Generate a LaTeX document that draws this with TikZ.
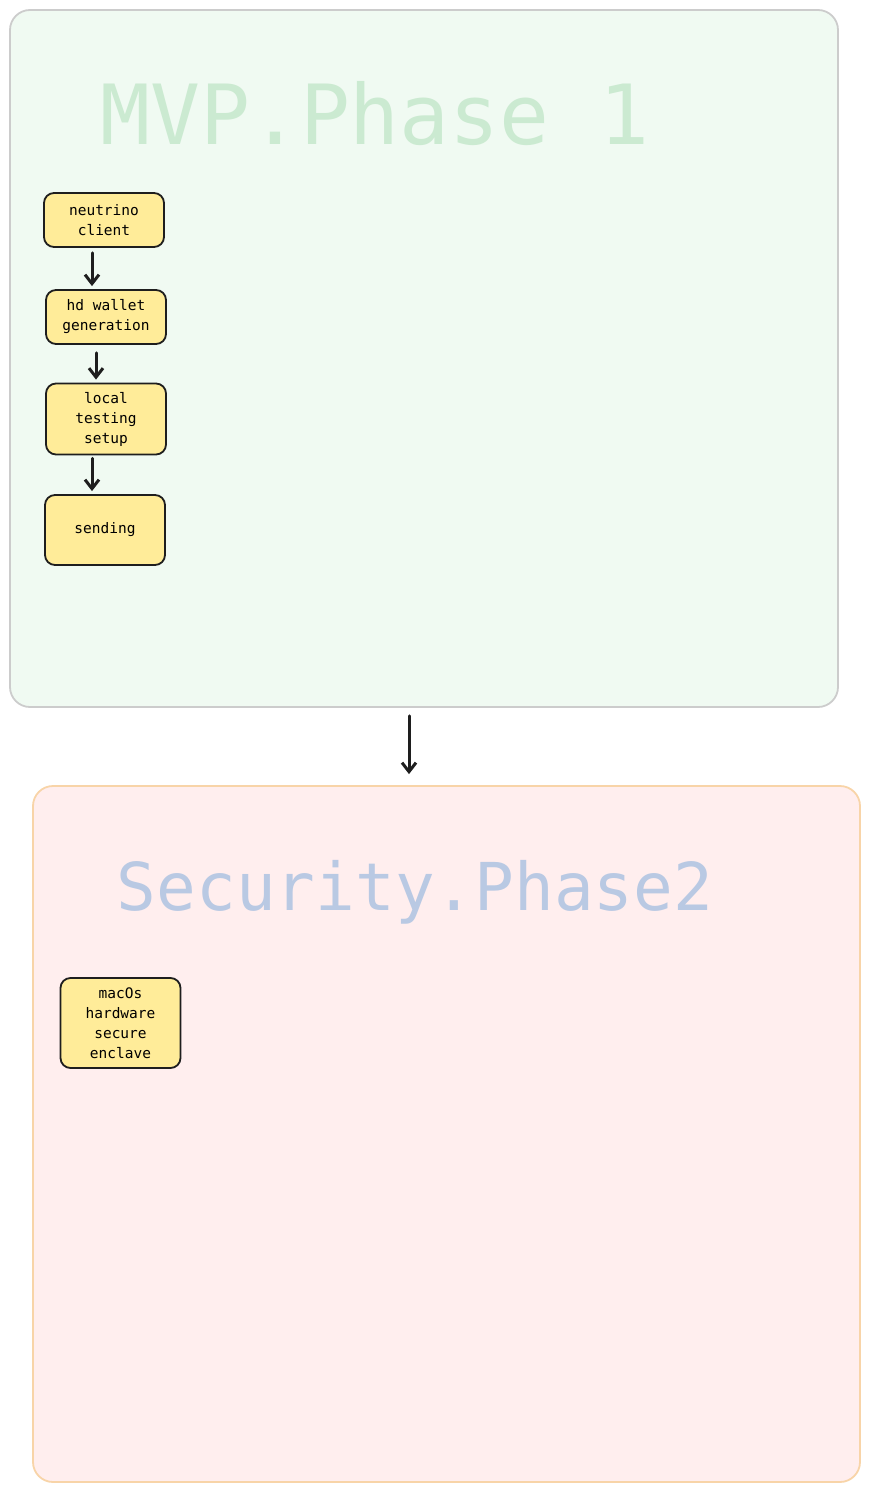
\documentclass[tikz,border=0pt]{standalone}
\usepackage{fontspec}
\setmonofont{DejaVu Sans Mono}
\usetikzlibrary{arrows,arrows.meta,positioning}
\definecolor{mvpfill}{HTML}{F0FAF2}
\definecolor{mvpline}{HTML}{CCCCCC}
\definecolor{mvptext}{HTML}{CBEAD1}
\definecolor{secfill}{HTML}{FFEEEE}
\definecolor{secline}{HTML}{F8D4A8}
\definecolor{sectext}{HTML}{B9C9E3}
\definecolor{taskfill}{HTML}{FFEC99}
\definecolor{ink}{HTML}{1E1E1E}
\tikzset{
	>=stealth, node distance=100pt,
	phase/.style={rounded corners=20pt, line width=1.8pt, inner sep=0pt},
	title/.style={anchor=base, font=\ttfamily\fontsize{#1}{#1}\selectfont},
	task/.style={draw=ink, fill=taskfill, line width=1.8pt, rounded corners=10pt,
		minimum width=120pt, align=center, inner sep=0pt,
		font=\ttfamily\fontsize{14.5}{20}\selectfont},
	flow/.style={draw=ink, line width=3pt, line cap=round,
		-{Straight Barb[length=9pt, width=14pt, line width=3pt]}},
}

\begin{document}
\begin{tikzpicture}[x=1pt, y=1pt]
	\useasboundingbox (0,0) rectangle (871,-1493);
	% phase frames
	\node[phase, draw=mvpline, fill=mvpfill, minimum width=828pt, minimum height=697pt] (mvp) at (424,-358.5) {};
	\node[phase, draw=secline, fill=secfill, minimum width=827pt, minimum height=696pt] (sec) at (446.5,-1134) {};
	\node[title=83, text=mvptext] (mvptitle) at (375,-144) {MVP.Phase 1};
	\node[title=66, text=sectext] (sectitle) at (415,-910) {Security.Phase2};
	% phase 1 tasks
	\node[task, minimum height=54pt] (nc) at (104,-220) {neutrino\\client};
	\node[task, minimum height=54pt, below of=nc, xshift=2pt, yshift=3pt] (hd) {hd wallet\\generation};
	\node[task, minimum height=71pt, below of=hd, yshift=-2pt] (lts) {local\\testing\\setup};
	\node[task, minimum height=70pt, below of=lts, xshift=-1pt, yshift=-11pt] (snd) {sending};
	% phase 2 tasks
	\node[task, minimum height=90pt] (enc) at (120.5,-1023) {macOs\\hardware\\secure\\enclave};
	\draw[flow] ([xshift=-12pt,yshift=-5pt]nc.south) -- ([xshift=-14pt,yshift=3pt]hd.north);
	\draw[flow] ([xshift=-10pt,yshift=-8pt]hd.south) -- ([xshift=-10pt,yshift=3pt]lts.north);
	\draw[flow] ([xshift=-14pt,yshift=-3pt]lts.south) -- ([xshift=-13pt,yshift=3pt]snd.north);
	\draw[flow] ([xshift=-15pt,yshift=-8pt]mvp.south) -- ([xshift=-37.5pt,yshift=11pt]sec.north);
\end{tikzpicture}
\end{document}
